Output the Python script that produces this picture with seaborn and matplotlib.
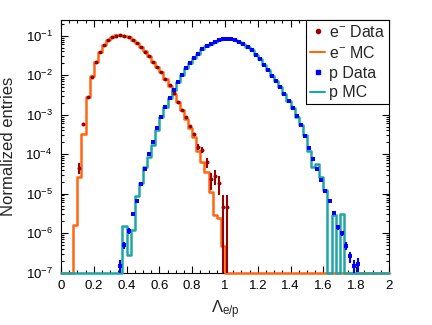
import numpy as np
import seaborn as sb
import matplotlib
matplotlib.use("Agg")
import matplotlib.pyplot as plt
from matplotlib.lines import Line2D
from matplotlib.ticker import MultipleLocator, LogLocator, NullFormatter, FuncFormatter

# binning: 80 bins of 0.025 between 0 and 2
n_bins = 80
bin_width = 0.025
edges = np.linspace(0, 2, n_bins + 1)
centers = edges[:-1] + bin_width / 2

# electron MC, first filled bin = 3
e_mc_start = 3
e_mc = [1.6e-6, 2.7e-5, 3.2e-4, 2.8e-3, 9.3e-3, 0.021, 0.039, 0.059, 0.077, 0.093,
        0.102, 0.105, 0.101, 0.091, 0.079, 0.065, 0.052, 0.040, 0.030, 0.022,
        0.0165, 0.0118, 0.0080, 0.0054, 0.0034, 0.0021, 1.3e-3, 8.0e-4, 4.6e-4, 2.7e-4,
        1.2e-4, 6.5e-5, 3.6e-5, 1.1e-5, 2.9e-6, 2.4e-6, 4.7e-7]

# electron data, first filled bin = 4
e_data_start = 4
e_data = [4.6e-5, 5.9e-4, 2.8e-3, 9.0e-3, 0.021, 0.038, 0.058, 0.076, 0.092, 0.101,
          0.106, 0.100, 0.091, 0.079, 0.064, 0.051, 0.039, 0.030, 0.022, 0.0165,
          0.0118, 0.0082, 0.0055, 0.0035, 0.0021, 1.35e-3, 8.9e-4, 5.2e-4, 3.3e-4, 1.5e-4,
          1.3e-4, 6.3e-5, 2.3e-5, 2.8e-5, 1.9e-5, 4.7e-6, 4.7e-6]
e_err_bins = [4, 33, 34, 35, 36, 37, 38, 39, 40]
e_err = [1.5e-5, 2.6e-5, 2.5e-5, 1.7e-5, 1.05e-5, 1.15e-5, 9.5e-6, 4.7e-6, 4.7e-6]

# proton MC, first filled bin = 15
p_mc_start = 15
p_mc = [1.5e-6, 2.8e-7, 1.2e-6, 8.8e-6, 1.85e-5, 4.7e-5, 8.7e-5, 1.7e-4, 4.2e-4, 8.5e-4,
        1.55e-3, 2.6e-3, 4.2e-3, 6.8e-3, 0.0100, 0.0148, 0.020, 0.027, 0.035, 0.045,
        0.054, 0.063, 0.071, 0.077, 0.081, 0.083, 0.082, 0.078, 0.071, 0.063,
        0.053, 0.043, 0.033, 0.025, 0.0185, 0.0135, 0.0098, 0.0070, 0.0049, 0.0033,
        0.0022, 0.00145, 9.0e-4, 5.4e-4, 3.0e-4, 1.17e-4, 4.8e-5, 5.8e-5, 2.6e-5, 1.26e-5,
        0, 2.9e-6, 0, 3.0e-6]

# proton data, first filled bin = 14
p_data_start = 14
p_data = [1.5e-7, 5e-7, 1.15e-6, 3.1e-6, 6.7e-6, 1.74e-5, 4.2e-5, 1.0e-4, 2.0e-4, 4.6e-4,
          8.9e-4, 1.6e-3, 2.6e-3, 4.3e-3, 6.9e-3, 0.0102, 0.0150, 0.020, 0.027, 0.035,
          0.045, 0.054, 0.063, 0.071, 0.077, 0.081, 0.083, 0.082, 0.078, 0.071,
          0.063, 0.053, 0.043, 0.033, 0.025, 0.0185, 0.0135, 0.0098, 0.0070, 0.0049,
          0.0033, 0.0022, 0.00145, 9.2e-4, 5.6e-4, 2.9e-4, 1.4e-4, 7.6e-5, 4.2e-5, 2.2e-5,
          1.2e-5, 6.6e-6, 3.2e-6, 1.4e-6, 1.0e-6, 4.8e-7, 2.6e-7, 1.5e-7, 1.7e-7]
p_err_bins = [14, 15, 16, 17, 67, 68, 69, 70, 71, 72]
p_err = [6e-8, 1.1e-7, 1.7e-7, 2.8e-7, 1.9e-7, 1.6e-7, 1.1e-7, 8e-8, 6e-8, 6.5e-8]

labels = [r"e$^{-}$ Data", r"e$^{-}$ MC", "p Data", "p MC"]
c_edata = "#990000"
c_emc = "#ff6611"
c_pdata = "#0000ff"
c_pmc = "#1fa5a5"

y_min, y_max = 1e-7, 0.25


def fill_bins(start, vals):
    out = np.zeros(n_bins)
    out[start:start + len(vals)] = vals
    return out


sb.set_style("ticks")
plt.rcParams["font.family"] = ["Liberation Sans", "DejaVu Sans"]
plt.rcParams["mathtext.fontset"] = "custom"
plt.rcParams["mathtext.rm"] = "Liberation Sans"
plt.rcParams["mathtext.it"] = "Liberation Sans:italic"
plt.rcParams["mathtext.bf"] = "Liberation Sans:bold"

fig, ax = plt.subplots(figsize=(4.32, 3.25), dpi=100)
fig.subplots_adjust(left=0.141, right=0.9005, bottom=0.161, top=0.9385)
ax.set_yscale("log")

# MC histograms as step lines (empty bins drawn on the floor)
for start, vals, col in [(e_mc_start, e_mc, c_emc), (p_mc_start, p_mc, c_pmc)]:
    h = np.clip(fill_bins(start, vals), y_min, None)
    sb.lineplot(x=edges, y=np.append(h, h[-1]), drawstyle="steps-post", color=col,
                lw=1.8, ax=ax, clip_on=False, zorder=3)

# data points
for start, vals, col, mk, ebins, errs in [
        (e_data_start, e_data, c_edata, "o", e_err_bins, e_err),
        (p_data_start, p_data, c_pdata, "s", p_err_bins, p_err)]:
    x = centers[start:start + len(vals)]
    sb.scatterplot(x=x, y=vals, marker=mk, color=col, s=8, linewidth=0, ax=ax, zorder=5)
    ax.errorbar(centers[ebins], fill_bins(start, vals)[ebins], yerr=errs, fmt="none",
                ecolor=col, elinewidth=1.5, capsize=0, zorder=5)

ax.set_xlim(0, 2)
ax.set_ylim(y_min, y_max)
ax.xaxis.set_major_locator(MultipleLocator(0.2))
ax.xaxis.set_minor_locator(MultipleLocator(0.05))
ax.xaxis.set_major_formatter(FuncFormatter(lambda v, p: "%g" % round(v, 2)))
ax.yaxis.set_major_locator(LogLocator(base=10, numticks=15))
ax.yaxis.set_minor_locator(LogLocator(base=10, subs=np.arange(2, 10), numticks=15))
ax.yaxis.set_minor_formatter(NullFormatter())
ax.tick_params(which="both", direction="in", top=True, right=True, width=0.8,
               colors="black", labelsize=9.5)
ax.tick_params(which="major", length=5)
ax.tick_params(which="minor", length=2.5)
ax.tick_params(axis="x", pad=5)
ax.tick_params(axis="y", pad=6)
for sp in ax.spines.values():
    sp.set_linewidth(0.8)
    sp.set_color("black")
    sp.set_zorder(2)

ax.set_xlabel(r"$\Lambda_{\rm e/p}$", fontsize=12)
ax.set_ylabel("Normalized entries", fontsize=12)
ax.xaxis.set_label_coords(0.5, -0.1)
ax.yaxis.set_label_coords(-0.137, 0.5)

handles = [
    Line2D([], [], ls="none", marker="o", color=c_edata, ms=3),
    Line2D([], [], color=c_emc, lw=1.5),
    Line2D([], [], ls="none", marker="s", color=c_pdata, ms=3),
    Line2D([], [], color=c_pmc, lw=1.5),
]
leg = ax.legend(handles, labels, loc="upper right", bbox_to_anchor=(1, 1),
                borderaxespad=0, fontsize=11.5, handlelength=0.9, handletextpad=0.25,
                labelspacing=0.3, borderpad=0.25, fancybox=False, framealpha=1,
                edgecolor="black")
leg.get_frame().set_linewidth(0.8)
leg.set_zorder(6)

fig.savefig("out.png", dpi=100)
